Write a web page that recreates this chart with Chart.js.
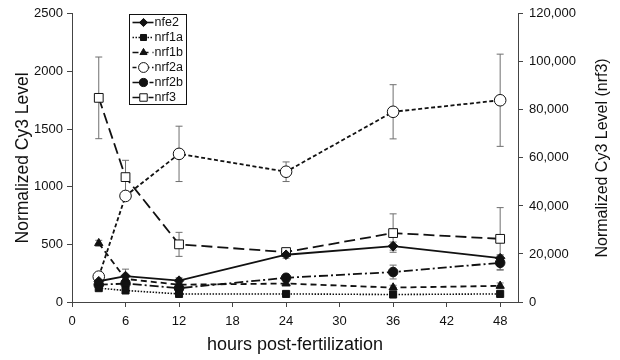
<!DOCTYPE html>
<html>
<head>
<meta charset="utf-8">
<script src="https://cdn.jsdelivr.net/npm/chart.js@4.4.1/dist/chart.umd.min.js"></script>
<style>
  html, body { margin: 0; padding: 0; background: #fff; }
  #wrap { width: 620px; height: 360px; position: relative; }
</style>
</head>
<body>
<div id="wrap"><canvas id="chart" width="620" height="360"></canvas></div>
<script>
// values
const hours   = [3, 6, 12, 24, 36, 48];
const xTicks  = [0, 6, 12, 18, 24, 30, 36, 42, 48];

const nfe2     = [180, 225, 185, 410, 485, 380];
const nfe2Err  = [20, 60, 25, 30, 35, 30];
const nrf1a    = [120, 100, 70, 70, 65, 70];
const nrf1aErr = [10, 10, 8, 8, 8, 8];
const nrf1b    = [510, 200, 150, 160, 125, 140];
const nrf1bErr = [25, 20, 15, 15, 20, 25];
const nrf2a    = [220, 920, 1285, 1130, 1650, 1750];
const nrf2aErr = [20, 40, 240, 85, 235, 400];
const nrf2b    = [150, 160, 120, 210, 260, 340];
const nrf2bErr = [15, 20, 15, 30, 60, 60];
const nrf3     = [85000, 52000, 24000, 20800, 28700, 26300];  // right axis
const nrf3Err  = [17000, 7000, 5000, 1500, 8000, 13000];

const FONT = "'Liberation Sans', Arial, sans-serif";
const INK = '#111';

const pts = (ys) => hours.map((h, i) => ({ x: h, y: ys[i] }));

function series(label, ys, errs, style, extra) {
  return Object.assign({
    label, data: pts(ys), errors: errs,
    borderColor: INK, borderWidth: 1.8,
    pointBorderColor: INK, pointBackgroundColor: INK,
    pointBorderWidth: 1, pointHoverRadius: 5,
    tension: 0, clip: false, yAxisID: 'y'
  }, style, extra || {});
}

const datasets = [
  series('nfe2',  nfe2,  nfe2Err,  { pointStyle: 'rectRot', pointRadius: 4.8 }),
  series('nrf1a', nrf1a, nrf1aErr, { pointStyle: 'rect', pointRadius: 5, borderDash: [1.5, 1.5], borderWidth: 1.6 }),
  series('nrf1b', nrf1b, nrf1bErr, { pointStyle: 'triangle', pointRadius: 4.8, borderDash: [6, 4] }),
  series('nrf2a', nrf2a, nrf2aErr, { pointStyle: 'circle', pointRadius: 5.8, pointBackgroundColor: '#fff', borderDash: [4, 2.5] }),
  series('nrf2b', nrf2b, nrf2bErr, { pointStyle: 'circle', pointRadius: 4.8, borderDash: [9, 3, 2, 3] }),
  series('nrf3',  nrf3,  nrf3Err,  { pointStyle: 'rect', pointRadius: 6.2, pointBackgroundColor: '#fff', borderDash: [11, 5] }, { yAxisID: 'y2' }),
];

// ── error bars (drawn under the markers) ──
const errorBars = {
  id: 'errorBars',
  beforeDatasetsDraw(chart) {
    const ctx = chart.ctx, xs = chart.scales.x;
    ctx.save();
    ctx.strokeStyle = '#6f6f6f';
    ctx.lineWidth = 1;
    ctx.setLineDash([]);
    chart.data.datasets.forEach(ds => {
      const ys = chart.scales[ds.yAxisID];
      ds.data.forEach((p, i) => {
        const e = ds.errors[i];
        if (!e) return;
        const px = xs.getPixelForValue(p.x);
        const top = ys.getPixelForValue(p.y + e), bot = ys.getPixelForValue(p.y - e);
        ctx.beginPath();
        ctx.moveTo(px, top); ctx.lineTo(px, bot);
        ctx.moveTo(px - 3.5, top); ctx.lineTo(px + 3.5, top);
        ctx.moveTo(px - 3.5, bot); ctx.lineTo(px + 3.5, bot);
        ctx.stroke();
      });
    });
    ctx.restore();
  }
};

// ── boxed legend with line + marker, and right axis title read bottom-up ──
const boxLegend = {
  id: 'boxLegend',
  afterDraw(chart) {
    const ctx = chart.ctx;
    const bx = 129.5, by = 14.5, bw = 57, bh = 90, row = 15;
    ctx.save();
    ctx.fillStyle = '#fff';
    ctx.fillRect(bx, by, bw, bh);
    ctx.strokeStyle = INK; ctx.lineWidth = 1; ctx.setLineDash([]);
    ctx.strokeRect(bx, by, bw, bh);
    ctx.font = '12.5px ' + FONT;
    ctx.textBaseline = 'middle';
    chart.data.datasets.forEach((ds, i) => {
      const y = by + 8 + i * row;
      ctx.strokeStyle = INK; ctx.lineWidth = 1.6;
      ctx.setLineDash(ds.borderDash || []);
      ctx.beginPath(); ctx.moveTo(bx + 3, y); ctx.lineTo(bx + 24, y); ctx.stroke();
      ctx.setLineDash([]);
      ctx.fillStyle = ds.pointBackgroundColor; ctx.strokeStyle = INK; ctx.lineWidth = 1;
      Chart.helpers.drawPoint(ctx, { pointStyle: ds.pointStyle, radius: ds.pointRadius * 0.85, rotation: 0, borderWidth: 1 }, bx + 14, y);
      ctx.fillStyle = INK;
      ctx.fillText(ds.label, bx + 25, y + 0.5);
    });
    // right axis title
    ctx.translate(603, (chart.chartArea.top + chart.chartArea.bottom) / 2);
    ctx.rotate(-Math.PI / 2);
    ctx.textAlign = 'center';
    ctx.font = '16px ' + FONT;
    ctx.fillStyle = INK;
    ctx.fillText('Normalized Cy3 Level (nrf3)', 0, 0);
    ctx.restore();
  }
};

const axisGrid = { drawOnChartArea: false, color: '#444', tickLength: 5, lineWidth: 1 };
const tickFont = { family: FONT, size: 13 };

new Chart(document.getElementById('chart'), {
  type: 'line',
  data: { datasets },
  options: {
    responsive: false,
    animation: false,
    layout: { padding: { top: 11, left: 0, right: 0, bottom: 0 } },
    plugins: { legend: { display: false }, tooltip: { enabled: false } },
    scales: {
      x: {
        type: 'linear', min: 0, max: 50,
        afterBuildTicks: s => { s.ticks = xTicks.map(v => ({ value: v })); },
        afterFit: s => { s.height = 58; },
        ticks: { font: tickFont, color: INK, padding: 7, maxRotation: 0 },
        grid: axisGrid,
        border: { color: '#444', width: 1 },
        title: { display: true, text: 'hours post-fertilization', color: INK, font: { family: FONT, size: 18 }, padding: { top: 4, bottom: 4 } }
      },
      y: {
        position: 'left', min: 0, max: 2500,
        afterFit: s => { s.width = 72; },
        ticks: { stepSize: 500, font: tickFont, color: INK, padding: 4, callback: v => String(v) },
        grid: axisGrid,
        border: { color: '#444', width: 1 },
        title: { display: true, text: 'Normalized Cy3 Level', color: INK, font: { family: FONT, size: 17.5 }, padding: { top: 13, bottom: 13 } }
      },
      y2: {
        position: 'right', min: 0, max: 120000,
        afterFit: s => { s.width = 102; },
        ticks: { stepSize: 20000, font: tickFont, color: INK, padding: 6, callback: v => v.toLocaleString('en-US') },
        grid: axisGrid,
        border: { color: '#444', width: 1 }
      }
    }
  },
  plugins: [errorBars, boxLegend]
});
</script>
</body>
</html>
